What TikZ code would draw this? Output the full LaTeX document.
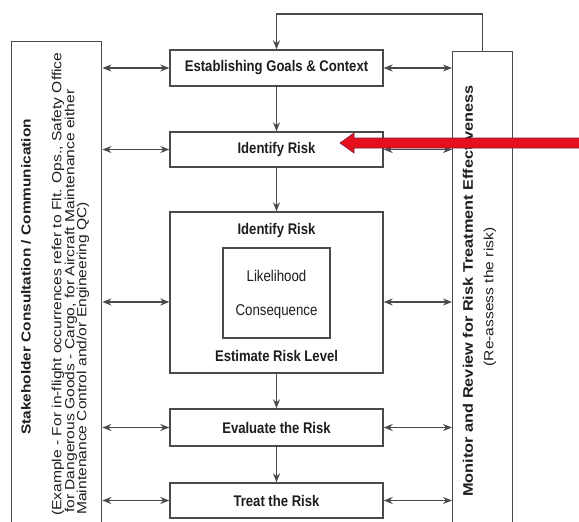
\documentclass[tikz,border=0pt]{standalone}
\usepackage{graphicx}
\usepackage{fontspec}
\setmainfont{Liberation Sans}
\usetikzlibrary{arrows.meta,calc}
\definecolor{ln}{HTML}{4A4A4A}
\definecolor{tx}{HTML}{1E1E1E}
\definecolor{arrred}{HTML}{E5101C}
\definecolor{arrdark}{HTML}{7A1A3A}
\newcommand{\hsq}[1]{\scalebox{0.85}[1]{#1}}
\newcommand{\vsq}[1]{\scalebox{1}[0.85]{#1}}
\begin{document}
\begin{tikzpicture}[x=1pt,y=-1pt,
  box/.style={draw=ln, line width=1.4pt, fill=white, inner sep=0pt},
  lbl/.style={text=tx, inner sep=0pt, font=\bfseries\fontsize{15.4}{16}\selectfont},
  reg/.style={text=tx, inner sep=0pt, font=\fontsize{15.6}{16}\selectfont},
  arr/.style={draw=ln, line width=1.2pt, -{Stealth[length=9pt,width=7pt]}},
  darr/.style={draw=ln, line width=1.2pt, {Stealth[length=9pt,width=7pt]}-{Stealth[length=9pt,width=7pt]}}]
\fill[white] (0,0) rectangle (579,522);
\clip (0,0) rectangle (579,522);
% side boxes
\node[box, minimum width=90pt, minimum height=520pt, anchor=north west] (left) at (11,41) {};
\node[box, minimum width=60pt, minimum height=500pt, anchor=north west] (right) at (452,51) {};
% central boxes
\node[box, lbl, minimum width=213pt, minimum height=36pt] (goals) at (276.5,68) {\hsq{Establishing Goals \& Context}};
\node[box, lbl, minimum width=213pt, minimum height=35pt] (ident) at (276.5,149.5) {\hsq{Identify Risk}};
\node[box, minimum width=213pt, minimum height=161pt] (est) at (276.5,292.5) {};
\node[box, minimum width=107pt, minimum height=90pt] (inner) at (276.5,293) {};
\node[box, lbl, minimum width=213pt, minimum height=37pt] (eval) at (276.5,427.5) {\hsq{Evaluate the Risk}};
\node[box, lbl, minimum width=213pt, minimum height=35pt] (treat) at (276.5,500.5) {\hsq{Treat the Risk}};
% texts in big box
\node[lbl] (estT) at (276.5,231) {\hsq{Identify Risk}};
\node[reg] (lik) at (276.5,276) {\hsq{Likelihood}};
\node[reg] (cons) at (276.5,312) {\hsq{Consequence}};
\node[lbl] (estB) at (276.5,356) {\hsq{Estimate Risk Level}};
% side texts
\node[lbl, rotate=90] (stk) at (26,277) {\vsq{Stakeholder Consultation / Communication}};
\node[reg, rotate=90, anchor=west] (ex1) at (58,516) {\vsq{(Example - For in-flight occurrences refer to Flt. Ops., Safety Office}};
\node[reg, rotate=90, anchor=west] (ex2) at (71,513) {\vsq{for Dangerous Goods - Cargo, for Aircraft Maintenance either}};
\node[reg, rotate=90, anchor=west] (ex3) at (83,515) {\vsq{Maintenance Control and/or Engineering QC)}};
\node[lbl, rotate=90, font=\bfseries\fontsize{16.3}{17}\selectfont] (mon) at (468,291) {\vsq{Monitor and Review for Risk Treatment Effectiveness}};
\node[reg, rotate=90] (reas) at (490,297) {\vsq{(Re-assess the risk)}};
% feedback
\coordinate (fb) at (276.5,14);
\draw[arr] (right.north) |- (fb) -- (goals.north);
% vertical flow
\draw[arr] (goals.south) -- (ident.north);
\draw[arr] (ident.south) -- (est.north);
\draw[arr] (est.south) -- (eval.north);
\draw[arr] (eval.south) -- (treat.north);
% side arrows
\coordinate (estL) at ($(est.west)+(0,9.5)$);
\coordinate (estR) at ($(est.east)+(0,9.5)$);
\foreach \n in {goals,ident,eval,treat}{
  \draw[darr] (left.east |- \n.west) -- (\n.west);
  \draw[darr] (\n.east) -- (right.west |- \n.east);
}
\draw[darr] (left.east |- estL) -- (estL);
\draw[darr] (estR) -- (right.west |- estR);
% red arrow
\coordinate (rtip) at (340,143);
\coordinate (rend) at (581,143);
\filldraw[fill=arrred, draw=arrdark, line width=0.6pt] (rtip) -- ($(rtip)+(14,-10)$) -- ($(rtip)+(14,-5)$) -- ($(rend)+(0,-5)$) -- ($(rend)+(0,5)$) -- ($(rtip)+(14,5)$) -- ($(rtip)+(14,10)$) -- cycle;
\end{tikzpicture}
\end{document}
